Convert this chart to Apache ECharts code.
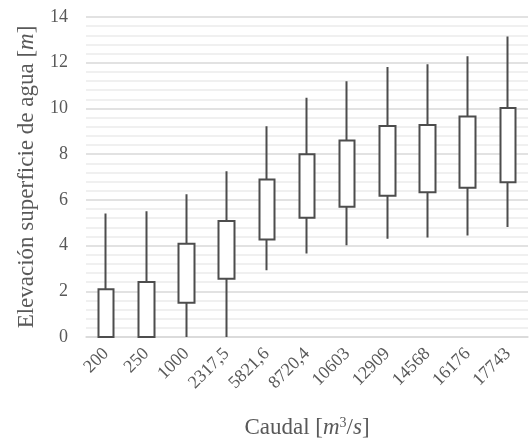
<!DOCTYPE html>
<html>
<head>
<meta charset="utf-8">
<script src="https://cdn.jsdelivr.net/npm/echarts@6/dist/echarts.min.js"></script>
<style>
  html, body { margin: 0; padding: 0; background: #fff; }
  #chart { width: 529px; height: 446px; }
</style>
</head>
<body>
<div id="chart"></div>
<script>
// caudales (categorias)
const caudales = ['200', '250', '1000', '2317,5', '5821,6', '8720,4', '10603', '12909', '14568', '16176', '17743'];
// cuartil inferior / superior y extremos de los bigotes
const q1 = [0, 0, 1.50, 2.55, 4.27, 5.22, 5.70, 6.18, 6.33, 6.53, 6.77];
const q3 = [2.09, 2.41, 4.08, 5.08, 6.89, 7.99, 8.60, 9.23, 9.27, 9.65, 10.02];
const minimo = [0, 0, 0, 0, 2.92, 3.65, 4.01, 4.30, 4.35, 4.44, 4.81];
const maximo = [5.40, 5.50, 6.25, 7.25, 9.22, 10.47, 11.19, 11.81, 11.93, 12.28, 13.15];

const fontFam = '"Liberation Serif", "DejaVu Serif", serif';

let myChart = echarts.init(document.getElementById('chart'));
myChart.setOption({
    animation: false,
    grid: {
        left: 86,
        right: 1,
        top: 17,
        bottom: 109
    },
    xAxis: {
        type: 'category',
        data: caudales,
        axisLine: { lineStyle: { color: '#d9d9d9', width: 1.5 } },
        axisTick: { show: false },
        axisLabel: {
            rotate: 45,
            interval: 0,
            color: '#595959',
            fontFamily: fontFam,
            fontSize: 18,
            margin: 14
        },
        name: 'Caudal [{i|m}{sup|3}/{i|s}]',
        nameLocation: 'middle',
        nameGap: 79,
        nameTextStyle: {
            color: '#595959',
            fontFamily: fontFam,
            fontSize: 23,
            rich: {
                i: { fontStyle: 'italic', fontFamily: fontFam, fontSize: 23, color: '#595959' },
                sup: { fontFamily: fontFam, fontSize: 14, color: '#595959', verticalAlign: 'top', padding: [0, 0, 9, 0] }
            }
        }
    },
    yAxis: {
        type: 'value',
        min: 0,
        max: 14,
        interval: 2,
        axisLine: { show: false },
        axisTick: { show: false },
        axisLabel: {
            color: '#595959',
            fontFamily: fontFam,
            fontSize: 18,
            margin: 18
        },
        splitLine: { lineStyle: { color: '#d9d9d9', width: 1.5 } },
        minorTick: { show: false, splitNumber: 5 },
        minorSplitLine: { show: true, lineStyle: { color: '#ececec', width: 1.5 } },
        name: 'Elevación superficie de agua [{i|m}]',
        nameLocation: 'middle',
        nameGap: 48,
        nameTextStyle: {
            color: '#595959',
            fontFamily: fontFam,
            fontSize: 23,
            rich: {
                i: { fontStyle: 'italic', fontFamily: fontFam, fontSize: 23, color: '#595959' }
            }
        }
    },
    series: [
        {
            type: 'candlestick',
            barWidth: 16,
            data: caudales.map((c, i) => [q1[i], q3[i], minimo[i], maximo[i]]),
            itemStyle: {
                color: '#ffffff',
                color0: '#ffffff',
                borderColor: '#4d4d4d',
                borderColor0: '#4d4d4d',
                borderWidth: 2
            }
        }
    ]
});
</script>
</body>
</html>
